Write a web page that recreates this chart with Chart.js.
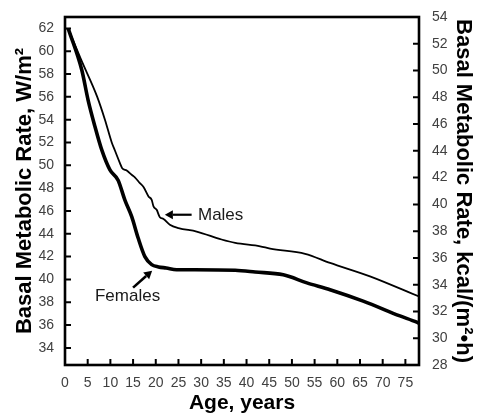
<!DOCTYPE html>
<html><head><meta charset="utf-8">
<script src="https://cdn.jsdelivr.net/npm/chart.js@4/dist/chart.umd.min.js"></script>
<style>html,body{margin:0;padding:0;background:#fff;}canvas{display:block;}</style>
</head><body>
<canvas id="c" width="483" height="416"></canvas>
<script>
// ---- data ----
const maleAges   = [0.7, 3.5, 7.1, 8.8, 10.3, 11.0, 12.1, 12.6, 13.6, 14.7, 15.4, 16.5, 17.3, 18.4, 19.1, 19.5, 20.2, 20.9, 21.7, 23.1, 25.0, 29.0, 34.5, 37.5, 43.0, 45.2, 52.9, 58.4, 67.2, 78.0];
const maleValues = [62.0, 59.3, 56.0, 54.0, 52.0, 51.3, 50.2, 49.75, 49.55, 49.17, 48.95, 48.44, 48.1, 47.27, 46.98, 46.4, 46.1, 45.45, 45.3, 44.8, 44.5, 44.2, 43.5, 43.2, 42.9, 42.7, 42.25, 41.45, 40.27, 38.5];
const femaleAges   = [0.7, 3.7, 5.1, 6.6, 8.1, 9.9, 11.7, 13.2, 14.7, 16.1, 17.6, 19.1, 20.6, 22.3, 24.6, 28.6, 37.5, 41.9, 48.1, 53.3, 58.4, 65.7, 73.8, 77.5, 78.0];
const femaleValues = [62.0, 58.35, 55.7, 53.4, 51.35, 49.6, 48.7, 46.95, 45.5, 43.65, 42.0, 41.3, 41.1, 41.0, 40.85, 40.85, 40.8, 40.65, 40.4, 39.7, 39.1, 38.1, 36.8, 36.25, 36.15];
const xTickValues = [0, 5, 10, 15, 20, 25, 30, 35, 40, 45, 50, 55, 60, 65, 70, 75];
const leftTickValues = [34, 36, 38, 40, 42, 44, 46, 48, 50, 52, 54, 56, 58, 60, 62];
const rightTickValues = [28, 30, 32, 34, 36, 38, 40, 42, 44, 46, 48, 50, 52, 54];
const seriesNames = ['Males', 'Females'];

// annotation placement (in data units)
const labelNotes = [
  {text: 'Males', x: 29.3, y: 45.62},
  {text: 'Females', x: 6.6, y: 38.49}
];
const arrowNotes = [
  {x1: 27.9, y1: 45.67, x2: 22.0, y2: 45.67, width: 2.2},
  {x1: 15.0, y1: 39.28, x2: 19.2, y2: 40.77, width: 2.6}
];

const FONT = "'Liberation Sans', Arial, sans-serif";
const TICK_COLOR = '#404040';

const toPts = (xs, ys) => xs.map((x, i) => ({x: x, y: ys[i]}));

const frameTicks = {
  id: 'frameTicks',
  afterDatasetsDraw(chart) {
    const {ctx, chartArea: a, scales} = chart;
    ctx.save();
    ctx.strokeStyle = '#000';
    ctx.lineWidth = 2;
    const L = 6;
    ctx.beginPath();
    scales.y.ticks.forEach(t => { const p = scales.y.getPixelForValue(t.value); ctx.moveTo(a.left, p); ctx.lineTo(a.left + L, p); });
    scales.y2.ticks.forEach(t => { const p = scales.y2.getPixelForValue(t.value); ctx.moveTo(a.right, p); ctx.lineTo(a.right - L, p); });
    scales.x.ticks.forEach(t => { const p = scales.x.getPixelForValue(t.value); ctx.moveTo(p, a.bottom); ctx.lineTo(p, a.bottom - L); });
    ctx.stroke();
    ctx.lineWidth = 2.6;
    ctx.strokeRect(a.left, a.top, a.right - a.left, a.bottom - a.top);

    // annotations
    ctx.fillStyle = '#1a1a1a';
    ctx.font = '17px ' + FONT;
    ctx.textAlign = 'left';
    ctx.textBaseline = 'middle';
    labelNotes.forEach(n => {
      ctx.fillText(n.text, scales.x.getPixelForValue(n.x), scales.y.getPixelForValue(n.y));
    });
    ctx.fillStyle = '#000';
    arrowNotes.forEach(n => {
      const x1 = scales.x.getPixelForValue(n.x1), y1 = scales.y.getPixelForValue(n.y1);
      const x2 = scales.x.getPixelForValue(n.x2), y2 = scales.y.getPixelForValue(n.y2);
      const ang = Math.atan2(y2 - y1, x2 - x1);
      const hl = 8, hw = 4.5;
      const bx = x2 - hl * Math.cos(ang), by = y2 - hl * Math.sin(ang);
      ctx.lineWidth = n.width;
      ctx.beginPath(); ctx.moveTo(x1, y1); ctx.lineTo(bx, by); ctx.stroke();
      ctx.beginPath();
      ctx.moveTo(x2, y2);
      ctx.lineTo(bx + hw * Math.sin(ang), by - hw * Math.cos(ang));
      ctx.lineTo(bx - hw * Math.sin(ang), by + hw * Math.cos(ang));
      ctx.closePath(); ctx.fill();
    });
    ctx.restore();
  }
};

new Chart(document.getElementById('c'), {
  type: 'line',
  data: {
    datasets: [
      {label: seriesNames[0], data: toPts(maleAges, maleValues), borderColor: '#000', borderWidth: 1.8, pointRadius: 0, cubicInterpolationMode: 'monotone', fill: false, yAxisID: 'y'},
      {label: seriesNames[1], data: toPts(femaleAges, femaleValues), borderColor: '#000', borderWidth: 3.6, pointRadius: 0, cubicInterpolationMode: 'monotone', fill: false, yAxisID: 'y'}
    ]
  },
  options: {
    responsive: false,
    animation: false,
    layout: {padding: {top: 17, left: 0, right: 0, bottom: 0}},
    plugins: {legend: {display: false}, tooltip: {enabled: false}},
    scales: {
      x: {
        type: 'linear', min: 0, max: 78,
        grid: {display: false}, border: {display: false},
        afterBuildTicks: s => { s.ticks = xTickValues.map(v => ({value: v})); },
        afterFit: s => { s.height = 51; },
        ticks: {color: TICK_COLOR, font: {family: FONT, size: 14}, padding: 2, maxRotation: 0, autoSkip: false},
        title: {display: true, text: 'Age, years', color: '#000', font: {family: FONT, size: 21, weight: 'bold'}, padding: {top: 0, bottom: 0}}
      },
      y: {
        type: 'linear', position: 'left', min: 32.5, max: 63,
        grid: {display: false}, border: {display: false},
        afterBuildTicks: s => { s.ticks = leftTickValues.map(v => ({value: v})); },
        afterFit: s => { s.width = 65; },
        ticks: {color: TICK_COLOR, font: {family: FONT, size: 14}, padding: 3, autoSkip: false},
        title: {display: true, text: 'Basal Metabolic Rate, W/m²', color: '#000', font: {family: FONT, size: 22, weight: 'bold'}, padding: {top: 12, bottom: 0}}
      },
      y2: {
        type: 'linear', position: 'right', min: 28, max: 54,
        grid: {display: false}, border: {display: false},
        afterBuildTicks: s => { s.ticks = rightTickValues.map(v => ({value: v})); },
        afterFit: s => { s.width = 64; },
        ticks: {color: TICK_COLOR, font: {family: FONT, size: 14}, padding: 5, autoSkip: false},
        title: {display: true, text: 'Basal Metabolic Rate, kcal/(m²•h)', color: '#000', font: {family: FONT, size: 22, weight: 'bold'}, padding: {top: 7, bottom: 0}}
      }
    }
  },
  plugins: [frameTicks]
});
</script>
</body></html>
